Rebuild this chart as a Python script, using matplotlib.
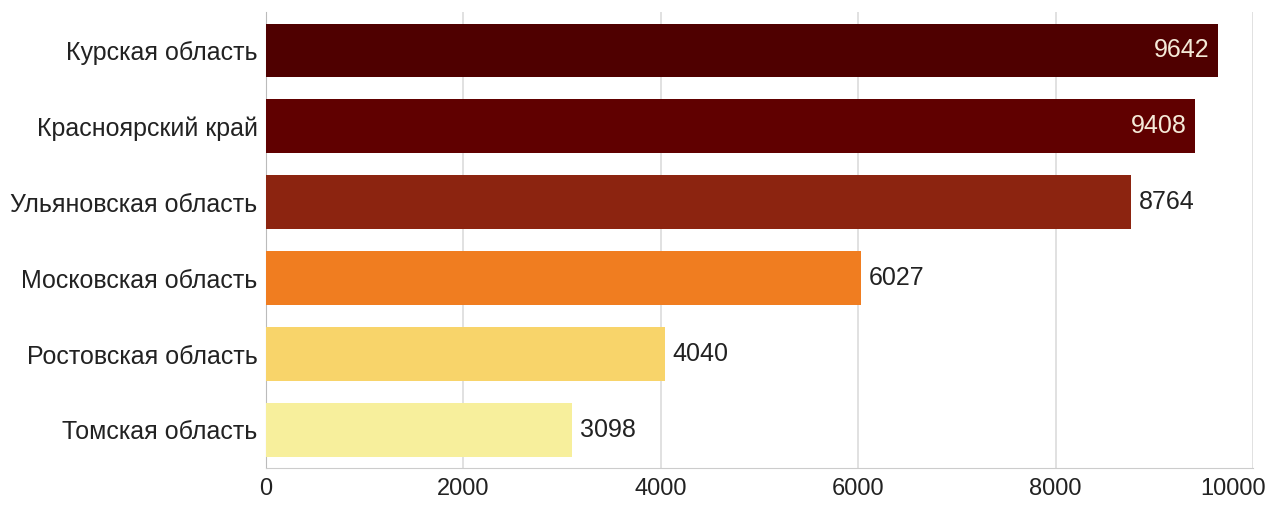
import matplotlib.pyplot as plt
import matplotlib.transforms as mtransforms

plt.rcParams['font.family'] = ['Liberation Sans', 'DejaVu Sans']

# data
regions = ['Курская область', 'Красноярский край', 'Ульяновская область',
           'Московская область', 'Ростовская область', 'Томская область']
values = [9642, 9408, 8764, 6027, 4040, 3098]
colors = ['#4f0000', '#600000', '#8c2410', '#f07d20', '#f8d46a', '#f7ef9c']
inside = [True, True, False, False, False, False]
xticks = [0, 2000, 4000, 6000, 8000, 10000]

fig = plt.figure(figsize=(12.7, 5.05), dpi=100)
ax = fig.add_axes([0.2094, 0.0733, 0.7772, 0.9027])

y = list(range(len(regions)))
ax.barh(y, values, height=0.7, color=colors, zorder=3)

for yi, v, ins in zip(y, values, inside):
    if ins:
        ax.text(v - 80, yi, str(v), ha='right', va='center', fontsize=18, color='#f5ead8', zorder=4)
    else:
        ax.text(v + 80, yi, str(v), ha='left', va='center', fontsize=18, color='#222222', zorder=4)

ax.set_ylim(len(regions) - 0.5, -0.5)
ax.set_xlim(0, 10000)
ax.set_yticks(y)
ax.set_yticklabels(regions, fontsize=18, color='#222222')
ax.set_xticks(xticks)
ax.set_xticklabels([str(t) for t in xticks], fontsize=17, color='#222222')
ax.tick_params(length=0)
ax.tick_params(axis='x', pad=7)
ax.tick_params(axis='y', pad=6)

# last tick label pulled left so it fits, as in the original
last = ax.get_xticklabels()[-1]
last.set_transform(last.get_transform() + mtransforms.ScaledTranslation(-0.2, 0, fig.dpi_scale_trans))

ax.grid(axis='x', color='#dcdcdc', linewidth=1.2, zorder=0)
for s in ['top', 'right']:
    ax.spines[s].set_visible(False)
ax.spines['left'].set_color('#bbbbbb')
ax.spines['bottom'].set_color('#cccccc')

fig.savefig('out.png', dpi=100)
